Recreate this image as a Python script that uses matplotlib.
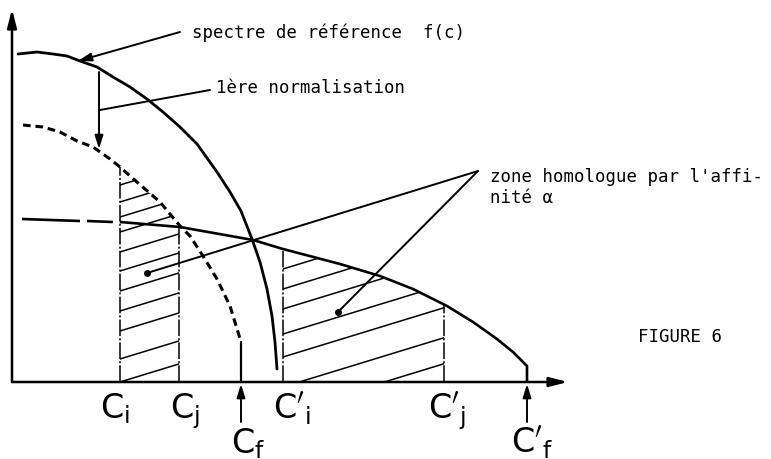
import matplotlib
matplotlib.use("Agg")
import matplotlib.pyplot as plt
from matplotlib.patches import Polygon
import numpy as np

plt.rcParams['lines.scale_dashes'] = False
plt.rcParams['font.family'] = ['DejaVu Sans Mono', 'DejaVu Sans']

# reference spectrum f(c)
ref_x = [6, 25, 41, 55, 68, 85, 101, 118, 135, 151, 168, 185, 205, 218, 229,
         240, 248, 255, 260, 263, 265]
ref_y = [328, 330, 328, 326, 321, 315, 305, 295, 283, 270, 255, 238, 210, 190, 171,
         143, 120, 93, 66, 40, 13]

# spectrum after the first normalisation (dashed)
norm_x = [11, 31, 48, 65, 81, 98, 108, 118, 148, 168, 178, 191, 205, 218, 226, 229]
norm_y = [257, 255, 250, 241, 235, 223, 215, 206, 180, 156, 146, 126, 103, 76, 50, 40]

# curve obtained by the affinity alpha
aff_x = [10, 68, 75, 101, 108, 168, 241, 271, 328, 368, 401, 435, 461, 485, 501, 515, 515]
aff_y = [163, 161, 161, 160, 160, 155, 142, 133, 118, 106, 93, 76, 60, 43, 30, 16, 0]

# abscissae of the bounds and heights where the bounds meet the curves
c_pos = {'Ci': 108, 'Cj': 167, 'Cf': 229, "Ci'": 271, "Cj'": 432, "Cf'": 515}
left_tops = [215, 155]
right_tops = [133, 77]

# hatching (intercept at the left bound, slope)
hatch_slope = 0.306
left_hatch = [0, 23, 51, 71, 91, 111, 130, 150, 165, 180, 197]
right_hatch = [-31, -5, 25, 48, 73, 93, 113]

fig = plt.figure(figsize=(7.71, 4.60), dpi=100)
ax = fig.add_axes([0, 0, 1, 1])
ax.set_xlim(-12, 759)
ax.set_ylim(-77, 383)
ax.axis('off')

k = dict(color='black', solid_capstyle='round', solid_joinstyle='round')

# axes
big = dict(arrowstyle='-|>,head_length=1.1,head_width=0.28', lw=1.8, color='black',
           shrinkA=0, shrinkB=0)
ax.annotate('', xy=(0, 373), xytext=(0, 0), arrowprops=big)
ax.annotate('', xy=(556, 0), xytext=(0, 0), arrowprops=big)

# curves
ax.plot(ref_x, ref_y, lw=2.0, **k)
ax.plot(norm_x, norm_y, lw=2.2, color='black', linestyle=(0, (5.5, 3.5)))
ax.plot([norm_x[-1], norm_x[-1]], [norm_y[-1], 0], lw=1.6, **k)
ax.plot(aff_x, aff_y, lw=1.9, color='black', solid_joinstyle='round',
        linestyle=(0, (41.8, 5, 18.7, 5, 3000, 1)))


def zone(x0, x1, tops, cx, cy, hatch):
    pts = [(x0, 0), (x0, tops[0])]
    pts += [(a, b) for a, b in zip(cx, cy) if x0 < a < x1]
    pts += [(x1, tops[1]), (x1, 0)]
    poly = Polygon(pts, closed=True, fill=False, edgecolor='none')
    ax.add_patch(poly)
    for b in hatch:
        xs = np.array([x0, x1])
        line, = ax.plot(xs, b + hatch_slope * (xs - x0), lw=1.1, color='black')
        line.set_clip_path(poly)
    for xv, top in zip([x0, x1], tops):
        ax.plot([xv, xv], [0, top], lw=1.1, color='black',
                linestyle=(0, (12, 1.5, 1.5, 1.5)))


zone(c_pos['Ci'], c_pos['Cj'], left_tops, norm_x, norm_y, left_hatch)
zone(c_pos["Ci'"], c_pos["Cj'"], right_tops, aff_x, aff_y, right_hatch)

# arrows under the axis for Cf and Cf'
small = dict(arrowstyle='-|>,head_length=0.8,head_width=0.25', lw=1.4, color='black',
             shrinkA=0, shrinkB=0)
for name in ['Cf', "Cf'"]:
    ax.annotate('', xy=(c_pos[name], -2), xytext=(c_pos[name], -40), arrowprops=small)

# annotations
ax.annotate('', xy=(66, 321), xytext=(168, 350), arrowprops=small)
ax.text(180, 350, 'spectre de référence  f(c)', fontsize=12.5, va='center')

ax.plot([198, 88], [292, 272], lw=1.4, **k)
ax.annotate('', xy=(87, 233), xytext=(87, 310), arrowprops=small)
ax.text(204, 295, '1ère normalisation', fontsize=12.5, va='center')

ax.plot([466, 135], [211, 109], lw=1.4, **k)
ax.plot([466, 326], [211, 70], lw=1.4, **k)
ax.plot([135, 326], [109, 70], 'o', ms=4, color='black')
ax.text(478, 206, "zone homologue par l'affi-", fontsize=12.5, va='center')
ax.text(478, 185, 'nité α', fontsize=12.5, va='center')

ax.text(626, 46, 'FIGURE 6', fontsize=12.5, va='center')

# bound labels
labels = {'Ci': (r"$\mathsf{C}_\mathsf{i}$", 103, -8),
          'Cj': (r"$\mathsf{C}_\mathsf{j}$", 173, -8),
          "Ci'": (r"$\mathsf{C}'_\mathsf{i}$", 280, -8),
          "Cj'": (r"$\mathsf{C}'_\mathsf{j}$", 435, -8),
          'Cf': (r"$\mathsf{C}_\mathsf{f}$", 236, -43),
          "Cf'": (r"$\mathsf{C}'_\mathsf{f}$", 520, -42)}
for s, lx, ly in labels.values():
    ax.text(lx, ly, s, fontsize=24, ha='center', va='top')

fig.savefig('out.png', dpi=100)
